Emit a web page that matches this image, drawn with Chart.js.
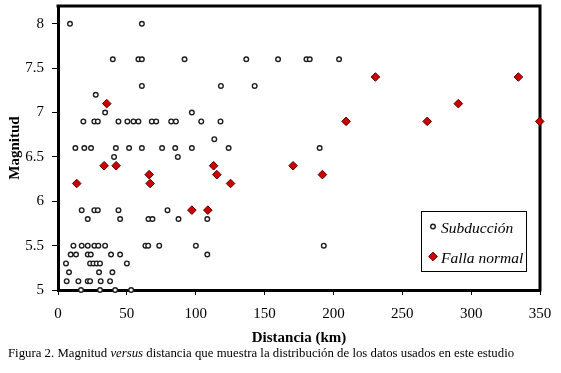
<!DOCTYPE html>
<html>
<head>
<meta charset="utf-8">
<script src="https://cdn.jsdelivr.net/npm/chart.js@4.4.1/dist/chart.umd.min.js"></script>
<style>
  html, body { margin: 0; padding: 0; background: #fff; }
  #wrap { position: relative; width: 561px; height: 373px; }
  #c { position: absolute; left: 0; top: 0; }
  #cap { position: absolute; left: 8px; top: 346px; font-family: 'Liberation Serif', 'Times New Roman', serif; font-size: 12.8px; color: #000; white-space: nowrap; }
</style>
</head>
<body>
<div id="wrap">
  <canvas id="c" width="561" height="373"></canvas>
  <div id="cap">Figura 2. Magnitud <i>versus</i> distancia que muestra la distribución de los datos usados en este estudio</div>
</div>
<script>
// Subducción (distance km, magnitude)
const subX = [8.7, 60.9,
  39.8, 58.4, 60.9, 91.9, 136.7, 159.8, 180.4, 182.8, 204.1,
  60.9, 118.3, 142.8,
  27.4,
  34.2, 97.2,
  18.4, 26.4, 28.9, 43.9, 50.4, 54.8, 58.4, 68.1, 71.3, 82.2, 85.6, 104, 118,
  113.5,
  12.6, 19.1, 24, 42, 51.6, 60.9, 75.6, 85.1, 97.2, 123.9, 190,
  40.7, 87,
  17.2, 26.4, 28.9, 43.9, 79.5,
  21.6, 45.1, 65.7, 68.6, 87.5, 108.4,
  11.2, 17.2, 21.6, 26.4, 29.3, 34.2, 63.5, 65.5, 73.5, 100.1, 193,
  9.2, 13.1, 21.6, 23.8, 38.5, 45.1, 108.4,
  5.8, 23.3, 25.7, 28.1, 30.5, 50,
  8, 29.8, 39.5,
  6.3, 14.8, 21.6, 23.3, 31, 37.8,
  16.7, 30.5, 41.5, 53.1];
const subY = [8.0, 8.0,
  7.6, 7.6, 7.6, 7.6, 7.6, 7.6, 7.6, 7.6, 7.6,
  7.3, 7.3, 7.3,
  7.2,
  7.0, 7.0,
  6.9, 6.9, 6.9, 6.9, 6.9, 6.9, 6.9, 6.9, 6.9, 6.9, 6.9, 6.9, 6.9,
  6.7,
  6.6, 6.6, 6.6, 6.6, 6.6, 6.6, 6.6, 6.6, 6.6, 6.6, 6.6,
  6.5, 6.5,
  5.9, 5.9, 5.9, 5.9, 5.9,
  5.8, 5.8, 5.8, 5.8, 5.8, 5.8,
  5.5, 5.5, 5.5, 5.5, 5.5, 5.5, 5.5, 5.5, 5.5, 5.5, 5.5,
  5.4, 5.4, 5.4, 5.4, 5.4, 5.4, 5.4,
  5.3, 5.3, 5.3, 5.3, 5.3, 5.3,
  5.2, 5.2, 5.2,
  5.1, 5.1, 5.1, 5.1, 5.1, 5.1,
  5.0, 5.0, 5.0, 5.0];
// Falla normal
const falX = [35.4, 33.5, 42.2, 13.6, 66.2, 66.9, 113, 115.3, 125.3, 97.2, 108.8, 170.7, 192, 209.2, 230.5, 268.1, 290.7, 334.3, 349.8];
const falY = [7.1, 6.4, 6.4, 6.2, 6.3, 6.2, 6.4, 6.3, 6.2, 5.9, 5.9, 6.4, 6.3, 6.9, 7.4, 6.9, 7.1, 7.4, 6.9];

const xTicks = [0, 50, 100, 150, 200, 250, 300, 350];
const yTicks = [5, 5.5, 6, 6.5, 7, 7.5, 8];
const seriesNames = ['Subducción', 'Falla normal'];
const axisTitles = ['Distancia (km)', 'Magnitud'];

const serif = "'Liberation Serif', 'Times New Roman', serif";
const toPts = (xs, ys) => xs.map((x, i) => ({ x: x, y: ys[i] }));

const framePlugin = {
  id: 'frame',
  beforeDatasetsDraw(chart) {
    const { ctx, chartArea: a } = chart;
    ctx.save();
    ctx.strokeStyle = '#000';
    ctx.lineWidth = 3;
    ctx.beginPath();
    ctx.moveTo(a.left - 1.5, a.top);
    ctx.lineTo(a.right, a.top);
    ctx.lineTo(a.right, a.bottom + 1.5);
    ctx.stroke();
    ctx.restore();
  }
};

const legendPlugin = {
  id: 'boxLegend',
  afterDraw(chart) {
    const { ctx, chartArea: a } = chart;
    const bx = a.right - 118.5, by = a.bottom - 78.5, bw = 105, bh = 60;
    ctx.save();
    ctx.fillStyle = '#fff';
    ctx.fillRect(bx, by, bw, bh);
    ctx.strokeStyle = '#000';
    ctx.lineWidth = 1;
    ctx.strokeRect(bx, by, bw, bh);
    ctx.font = "italic 15.5px " + serif;
    ctx.fillStyle = '#000';
    ctx.textBaseline = 'middle';
    ctx.textAlign = 'left';
    const rows = [by + 17, by + 47];
    chart.data.datasets.forEach((ds, i) => {
      const opts = { pointStyle: ds.pointStyle, radius: ds.pointRadius, borderWidth: ds.pointBorderWidth };
      ctx.fillStyle = ds.pointBackgroundColor;
      ctx.strokeStyle = ds.pointBorderColor;
      ctx.lineWidth = ds.pointBorderWidth;
      Chart.helpers.drawPoint(ctx, opts, bx + 11.5, rows[i] - 2);
      ctx.fillStyle = '#000';
      ctx.fillText(ds.label, bx + 19.5, rows[i]);
    });
    ctx.restore();
  }
};

new Chart(document.getElementById('c'), {
  type: 'scatter',
  data: {
    datasets: [
      {
        label: seriesNames[0],
        data: toPts(subX, subY),
        pointStyle: 'circle',
        pointRadius: 2.3,
        pointBorderWidth: 1.4,
        pointBackgroundColor: '#ffffff',
        pointBorderColor: '#1e1e1e',
        clip: false
      },
      {
        label: seriesNames[1],
        data: toPts(falX, falY),
        pointStyle: 'rectRot',
        pointRadius: 4.3,
        pointBorderWidth: 1,
        pointBackgroundColor: '#cc0000',
        pointBorderColor: '#5a0000',
        clip: false
      }
    ]
  },
  options: {
    responsive: false,
    animation: false,
    devicePixelRatio: 1,
    layout: { padding: { left: 6, top: 6, right: 21, bottom: 26 } },
    plugins: { legend: { display: false }, tooltip: { enabled: false } },
    scales: {
      x: {
        type: 'linear',
        min: 0, max: 350,
        afterFit(s) { s.height = 57; s.paddingLeft = 0; s.paddingRight = 0; },
        afterBuildTicks(s) { s.ticks = xTicks.map(v => ({ value: v })); },
        ticks: { font: { family: serif, size: 15 }, color: '#000', padding: 10 },
        grid: { display: true, drawOnChartArea: false, drawTicks: true, tickLength: 5, color: '#000', lineWidth: 1 },
        border: { display: true, color: '#000', width: 3 },
        title: { display: true, text: axisTitles[0], font: { family: serif, size: 15, weight: 'bold' }, color: '#000', padding: 0 }
      },
      y: {
        type: 'linear',
        min: 5, max: 8.2,
        afterFit(s) { s.width = 52; s.paddingTop = 0; s.paddingBottom = 0; },
        afterBuildTicks(s) { s.ticks = yTicks.map(v => ({ value: v })); },
        ticks: { font: { family: serif, size: 15 }, color: '#000', padding: 8, callback: v => String(v) },
        grid: { display: true, drawOnChartArea: false, drawTicks: true, tickLength: 6, color: '#000', lineWidth: 1 },
        border: { display: true, color: '#000', width: 3 },
        title: { display: true, text: axisTitles[1], font: { family: serif, size: 15, weight: 'bold' }, color: '#000', padding: 0 }
      }
    }
  },
  plugins: [framePlugin, legendPlugin]
});
</script>
</body>
</html>
